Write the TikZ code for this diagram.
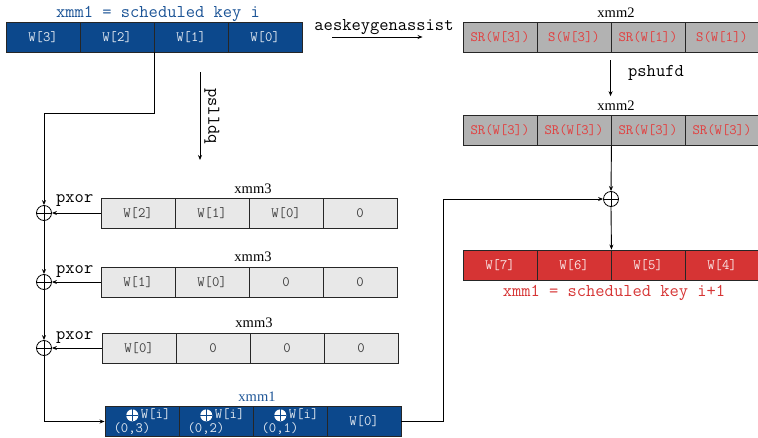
\documentclass[tikz,border=0pt]{standalone}
\usepackage{fontspec}
\setmainfont{Liberation Serif}
\usetikzlibrary{arrows.meta,positioning}

\definecolor{keyblue}{RGB}{12,72,140}
\definecolor{keyred}{RGB}{214,52,52}
\definecolor{gengrey}{RGB}{178,178,178}
\definecolor{shgrey}{RGB}{232,232,232}
\definecolor{sbred}{RGB}{226,62,62}
\definecolor{lblblue}{RGB}{28,84,150}

% white xor sign inside the running-sum cells
\newcommand{\wxor}{\tikz[baseline=-0.5ex,x=1pt,y=1pt]{%
  \fill[white] (0,0) circle (6);
  \draw[keyblue,line width=1.4pt] (-6,0) -- (6,0) (0,-6) -- (0,6);}}

\begin{document}
\begin{tikzpicture}[
    x=1pt,y=-1pt,
    every node/.style={font=\ttfamily\fontsize{18}{20}\selectfont},
    cell/.style={draw=black!85,line width=0.9pt,minimum width=74pt,minimum height=30pt,
                 inner sep=0pt,font=\ttfamily\fontsize{14.3}{14}\selectfont},
    keycell/.style={cell,fill=keyblue,text=white!88!keyblue},
    gencell/.style={cell,fill=gengrey,text=sbred},
    shcell/.style={cell,fill=shgrey,text=black!75},
    newcell/.style={cell,fill=keyred,text=white!88!keyred},
    reg/.style={font=\rmfamily\fontsize{14.5}{16}\selectfont,anchor=base,inner sep=1pt},
    op/.style={anchor=base west,inner sep=0pt},
    xorc/.style={draw,circle,line width=0.8pt,minimum size=15pt,inner sep=0pt,
                 path picture={\draw[line width=0.8pt]
                   (path picture bounding box.north) -- (path picture bounding box.south)
                   (path picture bounding box.west) -- (path picture bounding box.east);}},
    arr/.style={-{Stealth[length=5pt,width=4pt]},line width=0.9pt},
  ]
    \useasboundingbox (0,0) rectangle (758,437);

    % scheduled key i
    \node[anchor=base,text=lblblue] (keylbl) at (158,17) {xmm1 = scheduled key i};
    \foreach \w [count=\i] in {W[3],W[2],W[1],W[0]}
      \node[keycell] (key\i) at ({74*\i-31},37) {\w};

    % aeskeygenassist result and its shuffle
    \node[reg] (genlbl) at (616,17) {xmm2};
    \foreach \w [count=\i] in {SR(W[3]),S(W[3]),SR(W[1]),S(W[1])}
      \node[gencell] (gen\i) at ({74*\i+426},37) {\w};
    \node[anchor=base] (aesk) at (384,30) {aeskeygenassist};
    \draw[arr,shorten <=30pt,shorten >=40pt] (key4.east) -- (gen1.west);

    \node[reg] (shuflbl) at (616,110) {xmm2};
    \foreach \i in {1,...,4}
      \node[gencell] (shuf\i) at ({74*\i+426},130.5) {SR(W[3])};
    \node[op] (pshuf) at (628,76) {pshufd};
    \draw[arr,shorten <=8pt,shorten >=3pt] (gen3.south west) -- (gen3.south west |- shuflbl.north);

    % shifted copies
    \coordinate (sl1) at (200,72);
    \coordinate (sl2) at (200,160);
    \draw[arr] (sl1) -- node[rotate=-90,anchor=south,inner sep=4pt] (psll) {pslldq} (sl2);

    \node[reg] (salbl) at (253,193) {xmm3};
    \foreach \w [count=\i] in {W[2],W[1],W[0],0}
      \node[shcell] (sa\i) at ({74*\i+64},213) {\w};
    \node[reg] (sblbl) at (253,261) {xmm3};
    \foreach \w [count=\i] in {W[1],W[0],0,0}
      \node[shcell] (sb\i) at ({74*\i+64},282) {\w};
    \node[reg] (sclbl) at (254,327) {xmm3};
    \foreach \w [count=\i] in {W[0],0,0,0}
      \node[shcell] (sc\i) at ({74*\i+65},348) {\w};

    % pxor chain
    \node[xorc] (x1) at (44,213) {};
    \node[xorc] (x2) at (44,282) {};
    \node[xorc] (x3) at (44,348) {};
    \node[op] (p1) at (56,202) {pxor};
    \node[op] (p2) at (56,273) {pxor};
    \node[op] (p3) at (56,339) {pxor};

    % running sum
    \node[reg,text=lblblue] (acclbl) at (257,401) {xmm1};
    \foreach \j [count=\i] in {3,2,1}
      \node[keycell,align=left] (acc\i) at ({74*\i+68},421.5)
        {\hspace*{12pt}\wxor\hspace{2pt}W[i]\\(0,\j)};
    \node[keycell] (acc4) at (364,421.5) {W[0]};

    % scheduled key i+1
    \node[xorc] (xr) at (611,199) {};
    \foreach \w [count=\i] in {W[7],W[6],W[5],W[4]}
      \node[newcell] (nk\i) at ({74*\i+426},265) {\w};
    \node[anchor=base,text=keyred] (nklbl) at (614,296) {xmm1 = scheduled key i+1};

    \draw[arr] (key2.south east) -- ++(0,61) -| (x1.north);
    \draw[arr] (sa1.west) -- (x1.east);
    \draw[arr] (x1.south) -- (x2.north);
    \draw[arr] (sb1.west) -- (x2.east);
    \draw[arr] (x2.south) -- (x3.north);
    \draw[arr] (sc1.west) -- (x3.east);
    \draw[arr] (x3.south) |- (acc1.west);
    \draw[arr] (acc4.east) -- ++(42,0) |- (xr.west);
    \draw[arr] (shuf2.south east) -- (xr.north);
    \draw[arr] (xr.south) -- (nk2.north east);
  \end{tikzpicture}
\end{document}
